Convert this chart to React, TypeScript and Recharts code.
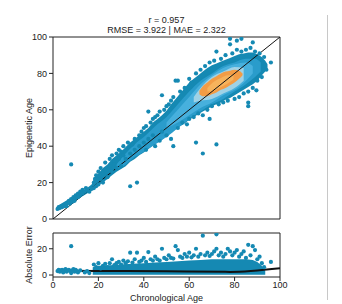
import React from 'react';
import { ComposedChart, Scatter, Area, Line, XAxis, YAxis, ReferenceArea } from 'recharts';

const FONT = 'Liberation Sans, Arial, sans-serif';
const BLUE = '#1589b3';

const xTicks = [0, 20, 40, 60, 80, 100];
const yTicksTop = [0, 20, 40, 60, 80, 100];
const yTicksBottom = [0, 20];

const titleLines = ['r = 0.957', 'RMSE = 3.922 | MAE = 2.322'];

// Dense band of predictions (outer extent)
const bandAges = [1.5, 3, 5, 7, 9, 11, 13, 15, 17, 18, 20, 22, 24, 26, 28, 30, 32, 34, 36, 38, 40, 42, 44, 46, 48, 50, 52, 54, 56, 58, 60, 62, 64, 66, 68, 70, 72, 74, 76, 78, 80, 82, 84, 86, 88, 90, 92, 93.5, 94.5];
const bandLow = [4.5, 5.5, 6.5, 8, 9.5, 11, 12.5, 14, 15.5, 17, 18.5, 20, 22, 24, 26, 27.5, 29, 31.5, 33, 35, 36.5, 38.5, 40.5, 42, 43.5, 45.5, 47.5, 49.5, 51, 52.5, 54.5, 56, 57.5, 59, 60.5, 62, 63, 64, 65.5, 66.5, 68, 69.5, 71, 72.5, 74, 76, 79, 81, 83];
const bandHigh = [6.5, 8, 9.5, 11, 12.5, 14, 15.5, 17, 19, 22, 25, 28, 30, 33, 35, 37, 39.5, 42, 44, 46, 48, 50, 53, 55, 57, 59.5, 63, 66, 69, 72, 75, 77, 79, 81, 83, 84.5, 85.5, 86.5, 87.5, 88.5, 89.5, 90.5, 91, 91.5, 91.5, 90.5, 89, 87, 85];

const midAges = [28, 32, 36, 40, 45, 50, 55, 60, 65, 70, 75, 80, 85, 89, 91.5];
const midLow = [27, 30, 34, 37, 41, 45, 50, 55, 59, 63, 66, 70, 74, 78, 81];
const midHigh = [30, 36, 41, 45, 51, 56, 63, 70, 76, 80, 84, 86, 88, 88, 86];

const lightAges = [50, 55, 60, 65, 70, 75, 80, 85, 88];
const lightLow = [50, 53, 57, 61, 64, 68, 71, 76, 80];
const lightHigh = [53, 60, 67, 74, 79, 83, 85, 86, 84];

const paleAges = [62, 65, 70, 75, 80, 84];
const paleLow = [64, 65, 66, 69, 72, 76];
const paleHigh = [67, 72, 78, 81, 83.5, 83];

const coreAges = [64.5, 66, 68, 70, 72, 74, 76, 78, 80, 82, 83.5];
const coreLow = [68.5, 67.5, 67.5, 68.5, 69.5, 71, 72, 73.5, 75, 77, 79];
const coreHigh = [70.5, 73, 75, 77, 78.5, 80, 81, 81.5, 82, 81.5, 80];

const hotAges = [68, 71, 74, 77, 79.5];
const hotLow = [70, 70.5, 72.5, 74.5, 76.5];
const hotHigh = [72, 75.5, 77.5, 79, 79];

// Individual samples (edges and outliers)
const pointAges = [2, 2.5, 3, 3.5, 4, 4.5, 5, 5.5, 6, 6, 7, 7, 7.5, 8, 8, 8.5, 9, 9, 9.5, 10, 10, 10.5, 11, 11, 11.5, 12, 12, 12.5, 13, 13, 14, 14.5, 15, 8, 16, 17,
  18, 18, 18.5, 19, 19, 20, 20, 21, 21, 22, 22, 23, 23, 24, 25, 25, 26, 26, 27, 27, 28, 28, 29, 29, 30, 30, 31, 31, 32, 33, 34, 37, 34, 35, 36, 36,
  38, 38, 39, 40, 40, 41, 41, 42, 42, 43, 44, 44, 45, 45, 46, 47, 47, 48, 48, 49, 50, 50,
  51, 52, 52, 53, 53, 54, 55, 55, 56, 57, 58, 59, 60, 60, 61, 62, 63, 63, 64, 65, 66, 66, 67, 68, 69, 69, 70, 71, 72, 72, 73, 74,
  75, 76, 77, 78, 78, 79, 80, 81, 81, 82, 83, 83, 84, 85, 86, 86, 86, 87, 88, 88, 89, 89.6, 90, 91, 92, 93, 94, 96];
const pointEpi = [5.5, 6.5, 6, 7, 6.5, 7.5, 7, 8, 8.5, 7, 9, 10, 8.5, 10, 11, 9.5, 11, 12, 10, 11.5, 13, 12, 12, 14, 13, 13, 15, 14, 14, 16, 15, 17, 16, 30, 15, 16.5,
  17, 20, 22, 18, 24, 19, 26, 22, 28, 20, 25, 27, 31, 23, 29, 33, 26, 35, 30, 32, 28, 36, 33, 38, 29, 37, 35, 40, 33, 42, 18, 20, 36, 41, 44, 38,
  46, 40, 48, 42, 50, 38, 51, 59, 44, 53, 46, 55, 40, 56, 57, 43, 59, 68, 48, 60, 46, 62,
  63, 44, 65, 40, 67, 76, 76, 50, 70, 53, 72, 52, 77, 55, 75, 56, 42, 80, 58, 82, 36, 57, 84, 60, 55, 86, 62, 87, 41, 92, 63, 88,
  64, 90, 65, 96, 99, 91, 66, 98, 93, 67, 99, 92, 69, 93, 64, 62, 70, 94, 97, 72, 92, 70.7, 76, 91, 78, 89, 82, 86];

const identityAges = [0, 100];
const identityVals = [0, 100];

// Absolute error panel
const errBandAges = [17.5, 20, 25, 30, 35, 40, 45, 50, 55, 60, 65, 70, 75, 80, 85, 88, 90, 92, 93.5];
const errBandHigh = [6, 7, 7.5, 8, 8.5, 9, 9.5, 10, 10.5, 11, 11.5, 12, 12, 12, 12, 11.5, 10, 7, 3];

const errPointAges = [2, 2.5, 3, 3.5, 4, 4.5, 5, 5.5, 6, 6.5, 7, 7.5, 8, 8, 8.5, 9, 9.5, 10, 10.5, 11, 12, 14, 15, 16,
  18, 19, 20, 21, 22, 23, 24, 25, 26, 27, 28, 29, 30, 31, 32, 33, 34, 35, 36, 37, 38, 39, 40, 41, 42, 43, 44, 45, 46, 47, 48, 49, 50,
  51, 52, 53, 54, 55, 56, 57, 58, 59, 60, 61, 62, 63, 64, 65, 66, 67, 68, 69, 70, 71, 72, 72, 73, 74, 75, 76, 77, 78, 79, 80,
  81, 82, 83, 84, 85, 86, 87, 88, 89, 90, 91, 92, 93, 96];
const errPointVals = [3, 4, 2.5, 3.5, 4, 2, 3.5, 4.5, 2.5, 3.5, 4, 3, 22, 1.5, 3.5, 4.5, 2.5, 4, 3, 2, 3.5, 2, 3, 1.5,
  8, 6, 9, 5, 7, 8.5, 6, 9, 12, 7.5, 9, 10, 8, 11, 9, 10.5, 17, 9.5, 12, 17, 10, 11, 13, 10, 17.5, 12, 11, 14, 12, 11, 20, 13, 12,
  15, 13, 12.5, 22, 19, 14, 13, 16, 14, 17, 13.5, 15, 20, 14, 16, 30, 15, 17, 14.5, 16, 18, 31, 20, 15, 17, 14, 16, 20, 18, 15, 17,
  19, 14, 16, 18, 13, 23, 15, 22, 19, 12, 14, 9, 6, 10];

const trendAges = [2, 20, 50, 78, 100];
const trendErr = [3.3, 3.1, 2.8, 2.4, 5.2];

const toRange = (ages: number[], lo: number[], hi: number[]) =>
  ages.map((a, i) => ({ age: a, range: [lo[i], hi[i]] }));

const bandData = toRange(bandAges, bandLow, bandHigh);
const midData = toRange(midAges, midLow, midHigh);
const lightData = toRange(lightAges, lightLow, lightHigh);
const paleData = toRange(paleAges, paleLow, paleHigh);
const coreData = toRange(coreAges, coreLow, coreHigh);
const hotData = toRange(hotAges, hotLow, hotHigh);
const pointData = pointAges.map((a, i) => ({ age: a, val: pointEpi[i] }));
const identityData = identityAges.map((a, i) => ({ age: a, val: identityVals[i] }));
const errBandData = errBandAges.map((a, i) => ({ age: a, range: [0.2, errBandHigh[i]] }));
const errPointData = errPointAges.map((a, i) => ({ age: a, val: errPointVals[i] }));
const trendData = trendAges.map((a, i) => ({ age: a, val: trendErr[i] }));

const Dot = (p: any) => <circle cx={p.cx} cy={p.cy} r={2.1} fill={BLUE} />;

const tickStyle = { fontSize: 9, fill: '#222', fontFamily: FONT };

export default function App() {
  return (
    <div style={{ position: 'absolute', left: 0, top: 0, width: 342, height: 304, background: '#fff', fontFamily: FONT }}>
      <div style={{ position: 'absolute', left: 53, top: 15, width: 227, textAlign: 'center', fontSize: 9, lineHeight: '10px', color: '#222' }}>
        <div>{titleLines[0]}</div>
        <div>{titleLines[1]}</div>
      </div>
      <div style={{ position: 'absolute', left: 327, top: 15, width: 1, height: 285, background: '#c8c8c8' }} />
      <div style={{ position: 'absolute', left: 0, top: 0 }}>
        <ComposedChart width={342} height={230} margin={{ top: 37, right: 62, bottom: 5, left: 4 }}>
          <XAxis type="number" dataKey="age" domain={[0, 100]} ticks={xTicks} tick={false} tickSize={4} height={6} axisLine={false} tickLine={{ stroke: '#222' }} allowDataOverflow />
          <YAxis type="number" domain={[0, 100]} ticks={yTicksTop} width={49} tickSize={4} tickMargin={2} tick={tickStyle} axisLine={false} tickLine={{ stroke: '#222' }} allowDataOverflow
            label={{ value: 'Epigenetic Age', angle: -90, position: 'center', style: { fontSize: 9, fill: '#222', fontFamily: FONT } }} />
          <Area data={bandData} dataKey="range" type="linear" stroke="none" fill={BLUE} fillOpacity={1} isAnimationActive={false} />
          <Area data={midData} dataKey="range" type="monotone" stroke="none" fill="#2a9ccb" fillOpacity={1} isAnimationActive={false} />
          <Area data={lightData} dataKey="range" type="monotone" stroke="none" fill="#47b0dd" fillOpacity={1} isAnimationActive={false} />
          <Area data={paleData} dataKey="range" type="monotone" stroke="none" fill="#9fd2e6" fillOpacity={1} isAnimationActive={false} />
          <Area data={coreData} dataKey="range" type="monotone" stroke="none" fill="#f29c45" fillOpacity={1} isAnimationActive={false} />
          <Area data={hotData} dataKey="range" type="monotone" stroke="none" fill="#f6b35c" fillOpacity={1} isAnimationActive={false} />
          <Scatter data={pointData} dataKey="val" shape={Dot} isAnimationActive={false} />
          <Line data={identityData} dataKey="val" type="linear" stroke="#111" strokeWidth={1} dot={false} isAnimationActive={false} />
          <ReferenceArea x1={0} x2={100} y1={0} y2={100} fill="none" stroke="#222" strokeWidth={1} ifOverflow="visible" />
        </ComposedChart>
      </div>
      <div style={{ position: 'absolute', left: 0, top: 225 }}>
        <ComposedChart width={342} height={79} margin={{ top: 8, right: 62, bottom: 3, left: 4 }}>
          <XAxis type="number" dataKey="age" domain={[0, 100]} ticks={xTicks} tickSize={4} tickMargin={1} height={24} tick={tickStyle} axisLine={false} tickLine={{ stroke: '#222' }} allowDataOverflow
            label={{ value: 'Chronological Age', position: 'insideBottom', offset: 0, style: { fontSize: 9, fill: '#222', fontFamily: FONT } }} />
          <YAxis type="number" domain={[-1.5, 32]} ticks={yTicksBottom} width={49} tickSize={4} tickMargin={2} tick={tickStyle} axisLine={false} tickLine={{ stroke: '#222' }} allowDataOverflow
            label={{ value: 'Absolute Error', angle: -90, position: 'center', style: { fontSize: 9, fill: '#222', fontFamily: FONT } }} />
          <Area data={errBandData} dataKey="range" type="linear" stroke="none" fill={BLUE} fillOpacity={1} isAnimationActive={false} />
          <Scatter data={errPointData} dataKey="val" shape={Dot} isAnimationActive={false} />
          <Line data={trendData} dataKey="val" type="monotone" stroke="#111" strokeWidth={2} dot={false} isAnimationActive={false} />
          <ReferenceArea x1={0} x2={100} y1={-1.5} y2={32} fill="none" stroke="#222" strokeWidth={1} ifOverflow="visible" />
        </ComposedChart>
      </div>
    </div>
  );
}
